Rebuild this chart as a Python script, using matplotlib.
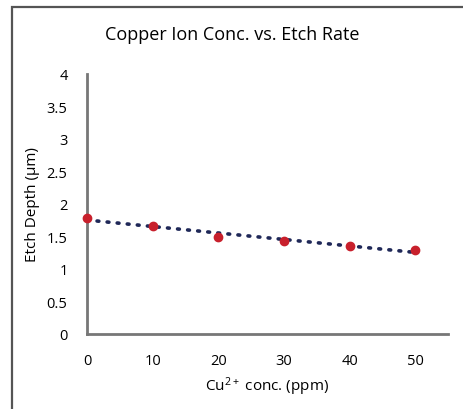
import numpy as np
import matplotlib.pyplot as plt
from matplotlib.patches import Rectangle

plt.rcParams['font.family'] = ['Open Sans', 'DejaVu Sans']
plt.rcParams['mathtext.fontset'] = 'custom'
plt.rcParams['mathtext.rm'] = 'Open Sans'
plt.rcParams['mathtext.default'] = 'regular'

# data
conc = [0, 10, 20, 30, 40, 50]
depth = [1.785, 1.666, 1.50, 1.435, 1.35, 1.29]
xticks = [0, 10, 20, 30, 40, 50]
yticks = [0, 0.5, 1, 1.5, 2, 2.5, 3, 3.5, 4]
ytick_labels = ['0', '0.5', '1', '1.5', '2', '2.5', '3', '3.5', '4']

fig = plt.figure(figsize=(4.64, 4.10), dpi=100)
ax = fig.add_axes([87/464, 1-335/410, (448-87)/464, (335-75)/410])

# linear trendline
k, b = np.polyfit(conc, depth, 1)
xs = np.array([conc[0], conc[-1]])
ax.plot(xs, k*xs + b, color='#1f2858', lw=2.6, ls=(0, (0.5, 2.3)),
        dash_capstyle='round', zorder=2)
ax.plot(conc, depth, 'o', color='#c8202c', ms=6, zorder=3, clip_on=False)

ax.set_xlim(0, 55.0)
ax.set_ylim(0, 4)
ax.set_xticks(xticks)
ax.set_yticks(yticks)
ax.set_yticklabels(ytick_labels)
ax.tick_params(length=0, labelsize=10.5, colors='black')
ax.tick_params(axis='x', pad=14)
ax.tick_params(axis='y', pad=14)
for s in ['top', 'right']:
    ax.spines[s].set_visible(False)
for s in ['left', 'bottom']:
    ax.spines[s].set_color('#777777')
    ax.spines[s].set_linewidth(2)

ax.set_xlabel('Cu$^{2+}$ conc. (ppm)', fontsize=11, labelpad=4)
ax.set_ylabel('Etch Depth (µm)', fontsize=11, labelpad=5)
fig.text(0.5, 1-35/410, 'Copper Ion Conc. vs. Etch Rate', ha='center', va='center', fontsize=13)

# outer frame (cropped at right and bottom)
fig.patches.append(Rectangle((12/464, -0.1), 1.2, 1-8/410+0.1, transform=fig.transFigure,
                             fill=False, ec='#555555', lw=1.6))

fig.savefig('out.png', dpi=100)
